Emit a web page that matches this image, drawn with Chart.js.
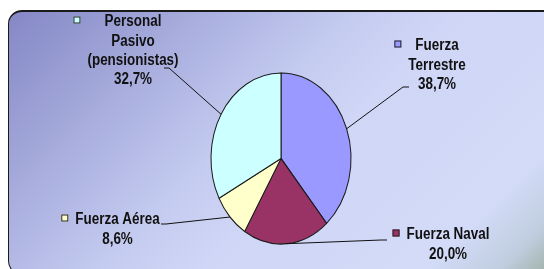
<!DOCTYPE html>
<html>
<head>
<meta charset="utf-8">
<script src="https://cdn.jsdelivr.net/npm/chart.js@4.4.1/dist/chart.umd.min.js"></script>
<style>
    body { margin: 0; background: #fff; }
    #wrap { position: relative; width: 544px; height: 269px; overflow: hidden; }
    #panel {
        position: absolute; left: 8px; top: 10px; width: 560px; height: 262px;
        border: 1.5px solid #1a1a1a; border-top-width: 2px; border-radius: 14px;
        background: linear-gradient(135deg, #8487c5 0%, #a3a8da 20%, #c4cbf0 42%, #cfd6f6 55%, #d3dbf8 82%, #c0cddf 91%, #92a690 100%);
    }
    #myChart { position: absolute; left: 0; top: 0; }
</style>
</head>
<body>
<div id="wrap">
    <div id="panel"></div>
    <canvas id="myChart" width="544" height="269"></canvas>
</div>
<script>
// datos del grafico
const categories = ['Fuerza Terrestre', 'Fuerza Naval', 'Fuerza Aérea', 'Personal Pasivo (pensionistas)'];
const values = [38.7, 20.0, 8.6, 32.7];
const sliceColors = ['#9999FF', '#993366', '#FFFFCC', '#CCFFFF'];
const labelLines = [['Fuerza', 'Terrestre'], ['Fuerza Naval'], ['Fuerza Aérea'], ['Personal', 'Pasivo', '(pensionistas)']];

// posicion de etiquetas (centro x, y de la primera linea) y arranque de las lineas guia
const labelPos = [[437, 46], [448, 235], [117.5, 220], [133, 22]];
const leaderStart = [[[409, 87], [403, 87]], [[387, 240], [381, 240]], [[161, 224], [166, 224]], [[164, 68], [169, 68]]];

const SY = 85.5 / 70; // el pastel es una elipse
const FONT = 'bold 16px "Liberation Sans", Arial, sans-serif';
const NARROW = 0.84; // letra estrecha
const LINE_H = 19.3;

function fmt(v) {
    return v.toFixed(1).replace('.', ',') + '%';
}

const ellipse = {
    id: 'ellipse',
    beforeDatasetsDraw(chart) {
        const a = chart.getDatasetMeta(0).data[0];
        const ctx = chart.ctx;
        ctx.save();
        ctx.translate(a.x, a.y);
        ctx.scale(1, SY);
        ctx.translate(-a.x, -a.y);
    },
    afterDatasetsDraw(chart) {
        chart.ctx.restore();
    }
};

const labelsPlugin = {
    id: 'pieLabels',
    afterDraw(chart) {
        const ctx = chart.ctx;
        const arcs = chart.getDatasetMeta(0).data;
        ctx.save();
        ctx.font = FONT;
        ctx.textAlign = 'center';
        ctx.textBaseline = 'middle';

        arcs.forEach(function (a, i) {
            // linea guia
            const mid = (a.startAngle + a.endAngle) / 2;
            const ex = a.x + a.outerRadius * Math.cos(mid);
            const ey = a.y + a.outerRadius * SY * Math.sin(mid);
            const pts = leaderStart[i];
            ctx.strokeStyle = '#111';
            ctx.lineWidth = 1;
            ctx.beginPath();
            ctx.moveTo(pts[0][0], pts[0][1]);
            ctx.lineTo(pts[1][0], pts[1][1]);
            ctx.lineTo(ex, ey);
            ctx.stroke();

            // texto
            const lines = labelLines[i].concat([fmt(values[i])]);
            const cx = labelPos[i][0];
            const y0 = labelPos[i][1];
            let maxW = 0;
            lines.forEach(function (t, k) {
                maxW = Math.max(maxW, ctx.measureText(t).width * NARROW);
                ctx.save();
                ctx.translate(cx, y0 + k * LINE_H);
                ctx.scale(NARROW, 1);
                ctx.fillStyle = '#111';
                ctx.fillText(t, 0, 0);
                ctx.restore();
            });

            // cuadro de leyenda
            const kx = cx - maxW / 2 - 7 - 7;
            const ky = y0 - 5.5;
            ctx.fillStyle = sliceColors[i];
            ctx.fillRect(kx, ky, 7, 7);
            ctx.strokeStyle = '#222';
            ctx.strokeRect(kx + 0.5, ky + 0.5, 6, 6);
        });
        ctx.restore();
    }
};

const chart = new Chart(document.getElementById('myChart').getContext('2d'), {
    type: 'pie',
    data: {
        labels: categories,
        datasets: [{
            data: values,
            backgroundColor: sliceColors,
            borderColor: '#1a1a1a',
            borderWidth: 1,
            hoverOffset: 0
        }]
    },
    options: {
        responsive: false,
        animation: false,
        layout: { padding: { left: 210.5, right: 192.5, top: 88, bottom: 40 } },
        plugins: {
            legend: { display: false },
            tooltip: { enabled: false }
        }
    },
    plugins: [ellipse, labelsPlugin]
});
</script>
</body>
</html>
